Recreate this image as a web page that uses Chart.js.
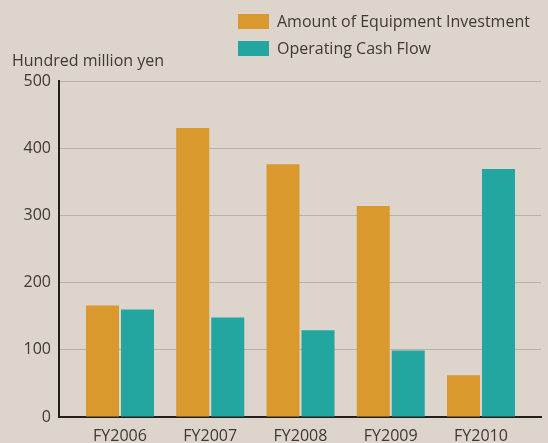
<!DOCTYPE html>
<html>
<head>
<meta charset="utf-8">
<script src="https://cdn.jsdelivr.net/npm/chart.js@4"></script>
<style>
  body { margin: 0; background: #ddd5cc; }
  canvas { display: block; }
</style>
</head>
<body>
<canvas id="investChart" width="548" height="443"></canvas>
<script>
// values (hundred million yen)
const categories = ['FY2006', 'FY2007', 'FY2008', 'FY2009', 'FY2010'];
const equipmentInvestment = [166, 430, 376, 314, 62];
const operatingCashFlow = [160, 148, 129, 99, 369];
const yTicks = [0, 100, 200, 300, 400, 500];

const textColor = '#3d3935';
const fontFamily = '"Open Sans", sans-serif';

// legend stacked top-right + unit label, drawn by hand
const annotations = {
  id: 'annotations',
  afterDraw(chart) {
    const ctx = chart.ctx;
    ctx.save();
    ctx.font = '16px ' + fontFamily;
    ctx.fillStyle = textColor;
    ctx.textBaseline = 'alphabetic';
    ctx.fillText('Hundred million yen', 12, 66);
    chart.data.datasets.forEach((ds, i) => {
      const y = 14 + i * 27;
      ctx.fillStyle = ds.backgroundColor;
      ctx.fillRect(238, y, 31, 15);
      ctx.fillStyle = textColor;
      ctx.fillText(ds.label, 277, y + 13);
    });
    ctx.restore();
  }
};

new Chart(document.getElementById('investChart'), {
  type: 'bar',
  data: {
    datasets: [
      {
        label: 'Amount of Equipment Investment',
        data: equipmentInvestment.map((v, i) => ({ x: i, y: v })),
        backgroundColor: '#d9992e'
      },
      {
        label: 'Operating Cash Flow',
        data: operatingCashFlow.map((v, i) => ({ x: i, y: v })),
        backgroundColor: '#23a69f'
      }
    ]
  },
  options: {
    responsive: false,
    animation: false,
    layout: { padding: { top: 81, right: 7, left: 0, bottom: 0 } },
    datasets: {
      bar: { categoryPercentage: 0.776, barPercentage: 0.943, borderWidth: 0 }
    },
    plugins: {
      legend: { display: false },
      tooltip: { enabled: false }
    },
    scales: {
      x: {
        type: 'linear',
        offset: false,
        min: -0.676,
        max: 4.665,
        afterBuildTicks: scale => { scale.ticks = categories.map((c, i) => ({ value: i })); },
        afterFit: scale => { scale.height = 26; },
        grid: { display: false, offset: false },
        border: { display: true, color: '#231f1c', width: 2 },
        ticks: {
          callback: v => categories[v],
          autoSkip: false,
          maxRotation: 0,
          padding: 2,
          color: textColor,
          font: { family: fontFamily, size: 16 }
        }
      },
      y: {
        min: 0,
        max: 500,
        afterBuildTicks: scale => { scale.ticks = yTicks.map(v => ({ value: v })); },
        afterFit: scale => { scale.width = 59; },
        grid: { color: '#b9b0a7', lineWidth: 1, drawTicks: false },
        border: { display: true, color: '#231f1c', width: 2 },
        ticks: {
          padding: 8,
          color: textColor,
          font: { family: fontFamily, size: 16 }
        }
      }
    }
  },
  plugins: [annotations]
});
</script>
</body>
</html>
